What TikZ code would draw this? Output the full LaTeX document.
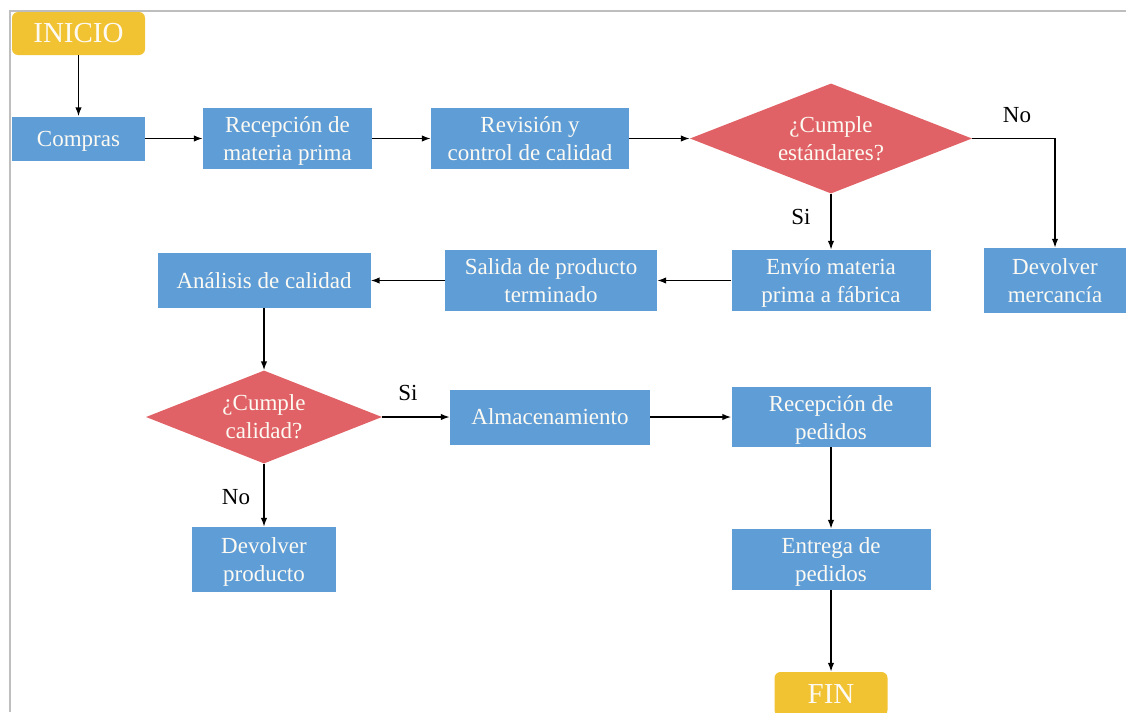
\documentclass[tikz,border=0pt]{standalone}
\usepackage{fontspec}
\setmainfont{Liberation Serif}
\usetikzlibrary{shapes.geometric,arrows.meta}
\definecolor{boxblue}{RGB}{95,157,215}
\definecolor{diared}{RGB}{224,98,102}
\definecolor{termyel}{RGB}{241,194,50}
\definecolor{framegray}{RGB}{190,190,190}
\definecolor{txtw}{RGB}{252,250,242}
\begin{document}
\begin{tikzpicture}[x=1pt,y=-1pt,
  box/.style={rectangle,fill=boxblue,text=txtw,align=center,inner sep=0pt,text depth=0pt,font=\fontsize{23}{28}\selectfont},
  dec/.style={diamond,fill=diared,text=txtw,align=center,inner sep=0pt,text depth=0pt,font=\fontsize{23}{28}\selectfont},
  term/.style={rectangle,rounded corners=6pt,fill=termyel,text=txtw,inner sep=0pt,font=\fontsize{29}{34}\selectfont},
  arr/.style={-{Latex[length=9pt,width=6.5pt]},line width=1.5pt},
  lbl/.style={inner sep=0pt,text=black,font=\fontsize{23}{28}\selectfont}]
\clip (0,0) rectangle (1126,712);
\draw[framegray,line width=2pt] (10,712) -- (10,10.5) -- (1126,10.5);
% nodes
\node[term,minimum width=133pt,minimum height=43pt] (inicio) at (78.5,33.5) {INICIO};
\node[box,minimum width=133pt,minimum height=44pt] (compras) at (78.5,138.5) {Compras};
\node[box,minimum width=169pt,minimum height=61pt] (recmp) at (287.5,138.5) {Recepción de\\materia prima};
\node[box,minimum width=198pt,minimum height=61pt] (revision) at (530,138.5) {Revisión y\\control de calidad};
\node[dec,minimum width=282pt,minimum height=110pt,aspect=2.56] (dec1) at (831,138.5) {¿Cumple\\estándares?};
\node[box,minimum width=142pt,minimum height=65pt] (devm) at (1055,280.5) {Devolver\\mercancía};
\node[box,minimum width=199pt,minimum height=61pt] (envio) at (831,280.5) {Envío materia\\prima a fábrica};
\node[box,minimum width=212pt,minimum height=61pt] (salida) at (551,280.5) {Salida de producto\\terminado};
\node[box,minimum width=213pt,minimum height=55pt] (analisis) at (264,280.5) {Análisis de calidad};
\node[dec,minimum width=236pt,minimum height=93pt,aspect=2.54] (dec2) at (264,417) {¿Cumple\\calidad?};
\node[box,minimum width=200pt,minimum height=55pt] (alm) at (550,417) {Almacenamiento};
\node[box,minimum width=199pt,minimum height=60pt] (recp) at (831,417) {Recepción de\\pedidos};
\node[box,minimum width=199pt,minimum height=61pt] (entrega) at (831,559.5) {Entrega de\\pedidos};
\node[term,minimum width=113pt,minimum height=44pt] (fin) at (831,694) {FIN};
\node[box,minimum width=144pt,minimum height=65pt] (devp) at (264,559.5) {Devolver\\producto};
% labels
\node[lbl] (lno1) at (1017,115) {No};
\node[lbl] (lsi1) at (801,217) {Si};
\node[lbl] (lsi2) at (408,393) {Si};
\node[lbl] (lno2) at (236,497) {No};
% connectors
\draw[arr] (inicio.south) -- (compras.north);
\draw[arr] (compras.east) -- (recmp.west);
\draw[arr] (recmp.east) -- (revision.west);
\draw[arr] (revision.east) -- (dec1.west);
\draw[arr] (dec1.east) -| (devm.north);
\draw[arr] (dec1.south) -- (envio.north);
\draw[arr] (envio.west) -- (salida.east);
\draw[arr] (salida.west) -- (analisis.east);
\draw[arr] (analisis.south) -- (dec2.north);
\draw[arr] (dec2.east) -- (alm.west);
\draw[arr] (dec2.south) -- (devp.north);
\draw[arr] (alm.east) -- (recp.west);
\draw[arr] (recp.south) -- (entrega.north);
\draw[arr] (entrega.south) -- (fin.north);
\end{tikzpicture}
\end{document}
